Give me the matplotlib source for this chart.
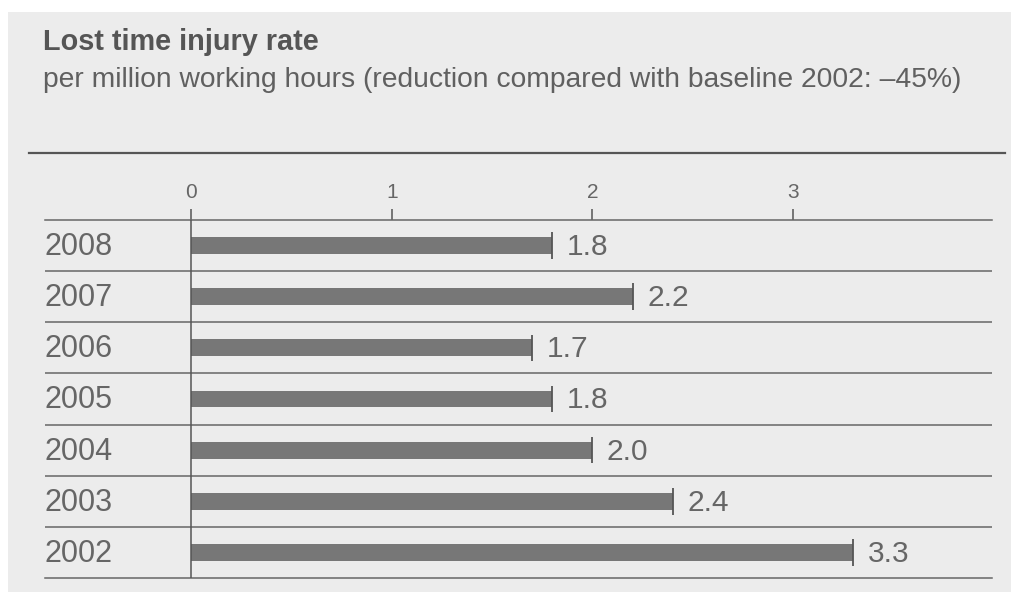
import matplotlib
matplotlib.use("Agg")
import matplotlib.pyplot as plt
from matplotlib.patches import Rectangle
from matplotlib.lines import Line2D
from matplotlib.transforms import blended_transform_factory

plt.rcParams['font.family'] = ['Liberation Sans', 'DejaVu Sans']

years = ["2002", "2003", "2004", "2005", "2006", "2007", "2008"]
values = [3.3, 2.4, 2.0, 1.8, 1.7, 2.2, 1.8]
value_labels = ["3.3", "2.4", "2.0", "1.8", "1.7", "2.2", "1.8"]
xticks = [0, 1, 2, 3]
title = "Lost time injury rate"
subtitle = "per million working hours (reduction compared with baseline 2002: \u201345%)"

W, H = 1011, 592
fig = plt.figure(figsize=(W / 100, H / 100), dpi=100, facecolor="white")

# grey panel
fig.patches.append(Rectangle((8 / W, 0), 1 - 8 / W, (H - 12) / H,
                             transform=fig.transFigure, facecolor="#ececec",
                             edgecolor="none", zorder=-10))
# top rule
fig.lines.append(Line2D([29 / W, 1005 / W], [(H - 153) / H] * 2,
                        transform=fig.transFigure, color="#555555", lw=1.6))

fig.text(43 / W, (H - 50) / H, title, fontsize=20.8, fontweight="bold",
         color="#555555", va="baseline", ha="left")
fig.text(43 / W, (H - 87) / H, subtitle, fontsize=20.3,
         color="#606060", va="baseline", ha="left")

left_px, right_px, top_px, bot_px = 45, 992, 220, 578
ax = fig.add_axes([left_px / W, (H - bot_px) / H, (right_px - left_px) / W,
                   (bot_px - top_px) / H])
ax.set_facecolor("none")
unit = 200.7
ax.set_xlim(-(191 - left_px) / unit, (right_px - 191) / unit)
ax.set_ylim(-0.5, len(years) - 0.5)

ypos = list(range(len(years)))
ax.barh(ypos, values, height=0.33, color="#777777", zorder=2)
ax.vlines(values, [y - 0.26 for y in ypos], [y + 0.26 for y in ypos],
          color="#555555", lw=1.3, zorder=3)

for y, v, lab in zip(ypos, values, value_labels):
    ax.annotate(lab, (v, y), xytext=(10.5, -1), textcoords="offset points",
                va="center", ha="left", fontsize=21.5, color="#666666")

trans = blended_transform_factory(ax.transAxes, ax.transData)
for y, yr in zip(ypos, years):
    ax.annotate(yr, (0.0, y), xycoords=trans, xytext=(0, -1),
                textcoords="offset points", va="center", ha="left",
                fontsize=22, color="#666666")

# row separators
for k in range(len(years) - 1):
    ax.axhline(k + 0.5, color="#666666", lw=1.1, zorder=1)
ax.axvline(0, color="#555555", lw=1.1, zorder=4)

for s in ["left", "right"]:
    ax.spines[s].set_visible(False)
for s in ["top", "bottom"]:
    ax.spines[s].set_color("#666666")
    ax.spines[s].set_linewidth(1.1)

ax.set_yticks([])
ax.xaxis.tick_top()
ax.set_xticks(xticks, labels=[str(t) for t in xticks])
ax.tick_params(axis="x", direction="out", length=8, width=1.1, color="#555555",
               labelsize=15, labelcolor="#666666", pad=5)

fig.savefig("out.png", dpi=100, facecolor="white")
